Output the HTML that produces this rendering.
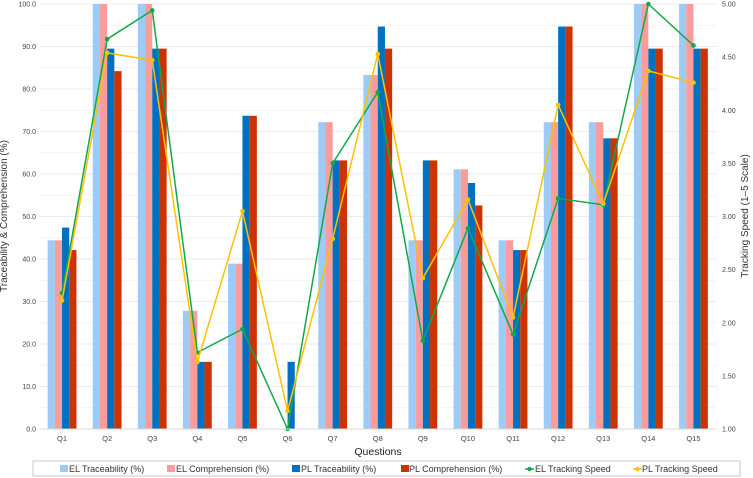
<!DOCTYPE html>
<html><head><meta charset="utf-8"><style>
html,body{margin:0;padding:0;background:#fff}
svg{display:block;font-family:"Liberation Sans",sans-serif}
</style></head><body>
<svg id="chart" width="753" height="478" viewBox="0 0 753 478">
<g id="grid"></g>
<g id="bars"></g>
<g id="lines"></g>
<g id="axes"></g>
<text x="7" y="216" transform="rotate(-90 7 216)" text-anchor="middle" font-size="10" fill="#333">Traceability &amp; Comprehension (%)</text>
<text x="748" y="216" transform="rotate(-90 748 216)" text-anchor="middle" font-size="10" fill="#333">Tracking Speed (1–5 Scale)</text>
<text x="378" y="455" text-anchor="middle" font-size="10.5" fill="#222">Questions</text>
<g>
<rect x="33" y="461" width="707" height="15" fill="#fff" stroke="#bbb" stroke-width="0.8"/>
<g><rect x="60" y="465" width="8" height="7" fill="#9dcbf8"/><text x="69" y="472" font-size="9" fill="#333">EL Traceability (%)</text></g>
<g><rect x="167" y="465" width="8" height="7" fill="#fa9c9c"/><text x="176" y="472" font-size="9" fill="#333">EL Comprehension (%)</text></g>
<g><rect x="292" y="465" width="8" height="7" fill="#0070c0"/><text x="301" y="472" font-size="9" fill="#333">PL Traceability (%)</text></g>
<g><rect x="401" y="465" width="8" height="7" fill="#cc3300"/><text x="409" y="472" font-size="9" fill="#333">PL Comprehension (%)</text></g>
<g><line x1="525" y1="469" x2="534" y2="469" stroke="#12a84a" stroke-width="1.5"/><circle cx="529.5" cy="469" r="2.2" fill="#12a84a"/><text x="535" y="472" font-size="9" fill="#333">EL Tracking Speed</text></g>
<g><line x1="633" y1="469" x2="642" y2="469" stroke="#ffc000" stroke-width="1.5"/><circle cx="637.5" cy="469" r="2.2" fill="#ffc000"/><text x="642" y="472" font-size="9" fill="#333">PL Tracking Speed</text></g>
</g>
</svg>
<script>
const categories = ["Q1","Q2","Q3","Q4","Q5","Q6","Q7","Q8","Q9","Q10","Q11","Q12","Q13","Q14","Q15"];
const elTrace = [44.4,100,100,27.8,38.9,0,72.2,83.3,44.4,61.1,44.4,72.2,72.2,100,100];
const elComp = [44.4,100,100,27.8,38.9,0,72.2,83.3,44.4,61.1,44.4,72.2,72.2,100,100];
const plTrace = [47.4,89.5,89.5,15.8,73.7,15.8,63.2,94.7,63.2,57.9,42.1,94.7,68.4,89.5,89.5];
const plComp = [42.1,84.2,89.5,15.8,73.7,0,63.2,89.5,63.2,52.6,42.1,94.7,68.4,89.5,89.5];
const elSpeed = [2.28,4.67,4.94,1.72,1.94,1.0,3.50,4.17,1.83,2.89,1.89,3.17,3.11,5.0,4.61];
const plSpeed = [2.21,4.54,4.47,1.63,3.05,1.17,2.79,4.53,2.42,3.16,2.05,4.05,3.12,4.37,4.26];
const leftTicks = [0,10,20,30,40,50,60,70,80,90,100];
const rightTicks = [1,1.5,2,2.5,3,3.5,4,4.5,5];

const NS="http://www.w3.org/2000/svg";
const X0=39.5, X1=716, Y0=429, Y1=4;
const band=(X1-X0)/categories.length;
const xc=i=>X0+band*(i+0.5);
const yL=v=>Y0-(v/100)*(Y0-Y1);
const yR=v=>Y0-((v-1)/4)*(Y0-Y1);
function mk(tag,attrs,parent){const e=document.createElementNS(NS,tag);for(const k in attrs)e.setAttribute(k,attrs[k]);parent.appendChild(e);return e;}
const grid=document.getElementById('grid'),bars=document.getElementById('bars'),lines=document.getElementById('lines'),axes=document.getElementById('axes');
for(let v=0;v<=100;v+=5){
  const g=mk('line',{x1:X0,x2:X1,y1:yL(v),y2:yL(v),stroke:v%10===0?'#e4e4e4':'#efefef','stroke-width':0.8},grid);
  
  
}
leftTicks.forEach(v=>{
  const t=mk('text',{x:36,y:yL(v)+2.5,'text-anchor':'end','font-size':7,fill:'#444'},axes);
  t.textContent=v.toFixed(1);
  
  
});
rightTicks.forEach(v=>{
  const t=mk('text',{x:722,y:yR(v)+2.5,'font-size':7,fill:'#444'},axes);
  t.textContent=v.toFixed(2);
  
  
});
categories.forEach((c,i)=>{
  const t=mk('text',{x:xc(i),y:441,'text-anchor':'middle','font-size':7.5,fill:'#444'},axes);
  t.textContent=c;
  
  
});
const series=[[elTrace,'#9dcbf8','el-traceability'],[elComp,'#fa9c9c','el-comprehension'],[plTrace,'#0070c0','pl-traceability'],[plComp,'#cc3300','pl-comprehension']];
const bw=7.2;
categories.forEach((c,i)=>{
  series.forEach((s,k)=>{
    const v=s[0][i];
    const x=xc(i)-2*bw+k*bw;
    const r=mk('rect',{x:x,y:yL(v),width:bw,height:Y0-yL(v),fill:s[1]},bars);
    
    
  });
});
const ax=mk('line',{x1:X0,x2:X1,y1:Y0,y2:Y0,stroke:'#d9d9d9','stroke-width':1},axes);


[[elSpeed,'#12a84a','el-speed'],[plSpeed,'#ffc000','pl-speed']].forEach(s=>{
  const pts=s[0].map((v,i)=>xc(i)+','+yR(v)).join(' ');
  const p=mk('polyline',{points:pts,fill:'none',stroke:s[1],'stroke-width':1.5},lines);
  
  
  s[0].forEach((v,i)=>{
    const m=mk('circle',{cx:xc(i),cy:yR(v),r:2.3,fill:s[1]},lines);
    
    
  });
});
</script>
</body></html>
